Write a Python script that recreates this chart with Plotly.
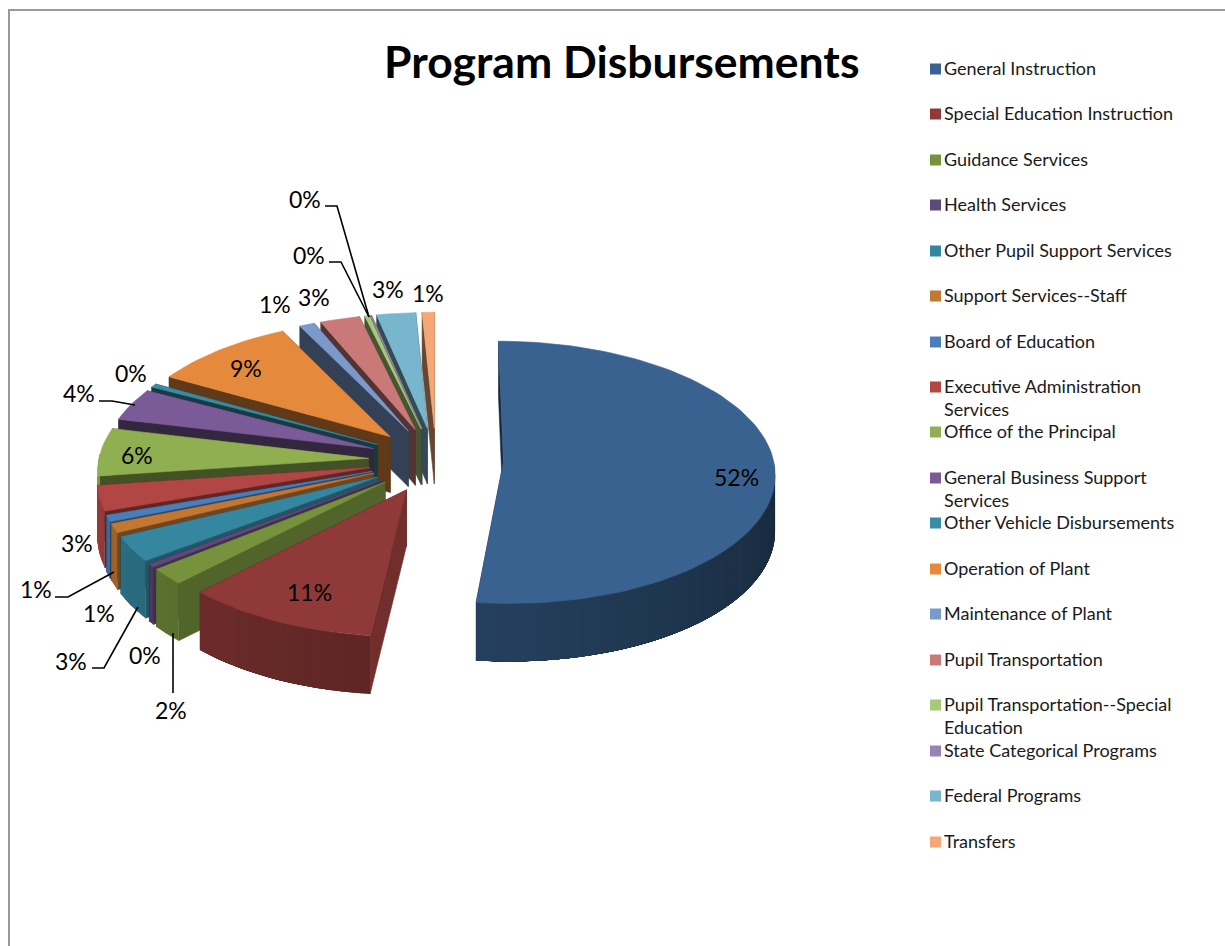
import math
import plotly.graph_objects as go

TITLE = "Program Disbursements"
CATEGORIES = [
    "General Instruction", "Special Education Instruction", "Guidance Services",
    "Health Services", "Other Pupil Support Services", "Support Services--Staff",
    "Board of Education", "Executive Administration<br>Services", "Office of the Principal",
    "General Business Support<br>Services", "Other Vehicle Disbursements", "Operation of Plant",
    "Maintenance of Plant", "Pupil Transportation", "Pupil Transportation--Special<br>Education",
    "State Categorical Programs", "Federal Programs", "Transfers",
]
VALUES = [51.8, 10.55, 2.0, 0.4, 3.1, 1.1, 0.8, 3.1, 5.9, 4.0, 0.45, 9.45, 1.0, 2.6, 0.3, 0.1, 2.55, 0.8]

# styles and layout
COLORS = ["#396290", "#8F3A38", "#76923C", "#5F497A", "#35869F", "#C27732",
          "#4A7EBB", "#B14644", "#90AF50", "#7A5B98", "#3A8BA4", "#E58A3C",
          "#7B9ACB", "#C97A78", "#A8C87A", "#9883B5", "#78B6CE", "#F5A875"]
LABEL_POS = [(736, 477), (309, 592), (171, 710), (145, 655), (71, 661), (99, 613),
             (36, 589), (77, 543), (137, 455), (79, 393), (131, 373), (246, 368),
             (275, 304), (314, 297), (309, 255), (305, 199), (388, 289), (428, 293)]
LEGEND_Y = [69, 114, 160, 205, 251, 296, 342, 387, 432, 478, 523, 569, 614, 660, 705, 751, 796, 842]
LEADERS = [
    [(55, 597), (68, 597), (114, 572)],
    [(92, 668), (104, 668), (138, 607)],
    [(173, 633), (173, 693)],
    [(99, 401), (112, 401), (135, 405)],
    [(329, 262), (341, 262), (369, 317)],
    [(325, 206), (337, 206), (369, 317)],
]
FONT = "Lato"
W, H = 1225, 946
CX, CY = 436, 460     # projected pie centre
RX, RY = 270, 130     # projected radii
PERSP = 0.08          # perspective strength
EXPLODE = 0.25        # explosion as a share of radius
DEPTH = 56            # wall height


def project(X, Y, down=0.0):
    s = 1.0 / (1.0 + PERSP * Y)
    return CX + X * RX * s, CY - Y * RY * s + down * s ** 0.4


def shade(color, f):
    r, g, b = (int(color[i:i + 2], 16) for i in (1, 3, 5))
    return f"rgb({int(r * f)},{int(g * f)},{int(b * f)})"


def poly(fig, pts, color, name=None, width=0.6):
    fig.add_trace(go.Scatter(
        x=[p[0] for p in pts] + [pts[0][0]], y=[p[1] for p in pts] + [pts[0][1]],
        mode="lines", fill="toself", fillcolor=color,
        line=dict(color=color, width=width), hoverinfo="skip" if name is None else "text",
        text=name, showlegend=False))


fig = go.Figure()
total = sum(VALUES)
slices = []
cum = 0.0
for i, v in enumerate(VALUES):
    a0 = cum / total * 360
    cum += v
    a1 = cum / total * 360
    slices.append((i, a0, a1))

# painter's order: back slices first
for i, a0, a1 in sorted(slices, key=lambda s: -math.cos(math.radians((s[1] + s[2]) / 2))):
    col = COLORS[i]
    mid = math.radians((a0 + a1) / 2)
    ax, ay = EXPLODE * math.sin(mid), EXPLODE * math.cos(mid)

    def ground(a):
        r = math.radians(a)
        return ax + math.sin(r), ay + math.cos(r)

    def face(a, f):
        gx, gy = ground(a)
        poly(fig, [project(ax, ay), project(gx, gy), project(gx, gy, DEPTH), project(ax, ay, DEPTH)],
             shade(col, f))

    # end face, then start face (the one facing the viewer on the left half)
    face(a1, 0.42)
    nx = -math.cos(math.radians(a0))
    face(a0, 0.42 + 0.38 * max(0.0, nx))

    # outer wall: overlapping bands drawn from the far end so no seams show
    lo, hi = max(a0, 90.0), min(a1, 272.0)
    if hi > lo:
        n = max(1, int((hi - lo) / 2.5))
        for k in range(n):
            s0 = lo + (hi - lo) * k / n
            s1 = lo + (hi - lo) * (k + 1) / n
            sweep = [s0 + (hi - s0) * t / 24 for t in range(25)]
            pts = [project(*ground(s)) for s in sweep] + [project(*ground(s), DEPTH) for s in reversed(sweep)]
            f = 0.40 + 0.48 * ((s0 + s1) / 2 - 90) / 180
            poly(fig, pts, shade(col, f), width=0)

    # top face
    steps = max(2, int((a1 - a0) / 2))
    arc = [project(*ground(a0 + (a1 - a0) * t / steps)) for t in range(steps + 1)]
    poly(fig, [project(ax, ay)] + arc, col, CATEGORIES[i].replace("<br>", " "))

# legend swatches
fig.add_trace(go.Scatter(
    x=[935.5] * len(CATEGORIES), y=LEGEND_Y, mode="markers",
    marker=dict(symbol="square", size=11, color=COLORS, line=dict(width=0)),
    hoverinfo="skip", showlegend=False))

shapes = [
    dict(type="line", xref="x", yref="y", x0=9, x1=9, y0=10, y1=H, line=dict(color="#999999", width=2)),
    dict(type="line", xref="x", yref="y", x0=8, x1=W, y0=10, y1=10, line=dict(color="#999999", width=2)),
]
for path in LEADERS:
    d = "M " + " L ".join(f"{x},{y}" for x, y in path)
    shapes.append(dict(type="path", xref="x", yref="y", path=d, line=dict(color="black", width=1.6)))

annotations = [dict(x=621, y=60, xref="x", yref="y", text=f"<b>{TITLE}</b>", showarrow=False,
                    font=dict(family=FONT, size=44.5, color="black"))]
for (x, y), v in zip(LABEL_POS, VALUES):
    annotations.append(dict(x=x, y=y, xref="x", yref="y", text=f"{round(v / total * 100)}%",
                            showarrow=False, font=dict(family=FONT, size=23, color="black")))
for y, name in zip(LEGEND_Y, CATEGORIES):
    annotations.append(dict(x=941.5, y=y - 14, xref="x", yref="y", text=name, showarrow=False,
                            xanchor="left", yanchor="top", align="left",
                            font=dict(family=FONT, size=18, color="#1a1a1a")))

fig.update_layout(
    width=W, height=H, margin=dict(l=0, r=0, t=0, b=0), autosize=False,
    paper_bgcolor="white", plot_bgcolor="white", showlegend=False,
    xaxis=dict(range=[0, W], visible=False, fixedrange=True),
    yaxis=dict(range=[H, 0], visible=False, fixedrange=True),
    shapes=shapes, annotations=annotations)

fig.write_html("out.html", config={"displayModeBar": False},
               post_script="document.body.style.margin='0';")
